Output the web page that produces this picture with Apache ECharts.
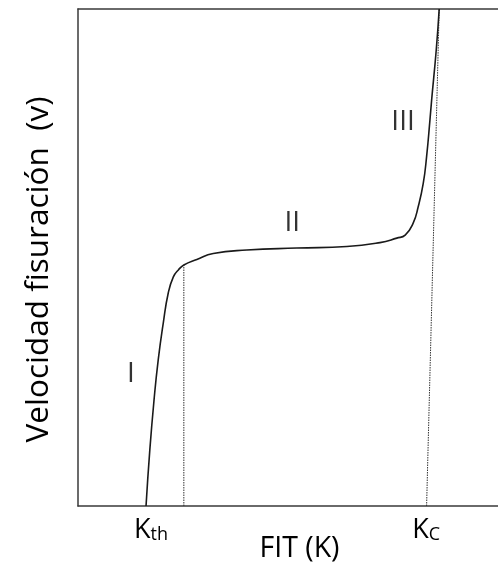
<!DOCTYPE html>
<html>
<head>
<meta charset="utf-8">
<script src="https://cdn.jsdelivr.net/npm/echarts@6/dist/echarts.min.js"></script>
<style>html,body{margin:0;padding:0;background:#fff;}#c{width:498px;height:564px;}</style>
</head>
<body>
<div id="c"></div>
<script>
// Crack growth curve (schematic), x: stress intensity factor, y: crack velocity
const curveX = [16.2, 17.1, 18.1, 19.1, 20.3, 21.5, 22.7, 23.9, 25.2, 28.3, 32.2, 40.2, 52.1, 64.0, 71.9, 75.9, 77.9, 79.8, 81.0, 82.2, 83.0, 83.8, 84.2, 85.3, 86.0];
const curveY = [0, 11.3, 21.3, 29.4, 36.8, 42.9, 46.1, 47.5, 48.5, 49.6, 50.8, 51.5, 51.9, 52.2, 53.0, 53.9, 54.5, 56.9, 60.2, 64.9, 70.3, 77.7, 81.7, 91.8, 100];
const kthLineX = [25.2, 25.2];
const kthLineY = [0, 48.5];
const kcLineX = [83.0, 86.0];
const kcLineY = [0, 100];
const regionNames = ['I', 'II', 'III'];
const regionX = [12.6, 51.0, 77.4];
const regionY = [26.6, 57.0, 77.3];
const tickValues = [17.4, 82.9];
const tickLabels = ['{k|K}{s|th}', '{k|K}{s|C}'];
const xTitle = 'FIT (K)';
const yTitle = 'Velocidad fisuración  (v)';

const FONT = 'Open Sans';
const chart = echarts.init(document.getElementById('c'), null, {renderer: 'canvas'});
const zip = (a, b) => a.map((v, i) => [v, b[i]]);
chart.setOption({
  animation: false,
  grid: {left: 78, right: 0, top: 9, bottom: 58, containLabel: false, outerBoundsMode: 'none'},
  xAxis: [{
    type: 'value', min: 0, max: 100, position: 'bottom',
    axisLine: {show: true, lineStyle: {color: '#3a3a3a', width: 1.5}},
    axisTick: {show: false}, splitLine: {show: false},
    axisLabel: {
      show: true, margin: 8, customValues: tickValues,
      formatter: v => tickLabels[tickValues.indexOf(v)] || '',
      rich: {
        k: {fontFamily: FONT, fontSize: 27, color: '#000', verticalAlign: 'bottom', lineHeight: 30},
        s: {fontFamily: FONT, fontSize: 18, color: '#000', verticalAlign: 'bottom', lineHeight: 24}
      }
    },
    name: xTitle, nameLocation: 'middle', nameGap: 28, nameMoveOverlap: false,
    nameTextStyle: {fontFamily: FONT, fontSize: 28.5, color: '#000', padding: [0, 0, 0, 23]}
  }, {
    type: 'value', min: 0, max: 100, position: 'top',
    axisLine: {show: true, lineStyle: {color: '#3a3a3a', width: 1.5}},
    axisTick: {show: false}, axisLabel: {show: false}, splitLine: {show: false}
  }],
  yAxis: {
    type: 'value', min: 0, max: 100,
    axisLine: {show: true, lineStyle: {color: '#3a3a3a', width: 1.5}},
    axisTick: {show: false}, axisLabel: {show: false}, splitLine: {show: false},
    name: yTitle, nameLocation: 'middle', nameGap: 23, nameRotate: 90, nameMoveOverlap: false,
    nameTextStyle: {fontFamily: FONT, fontSize: 31.5, color: '#000', padding: [0, 24, 0, 0]}
  },
  series: [
    {
      type: 'line', data: zip(kthLineX, kthLineY), symbol: 'none',
      lineStyle: {color: '#333', width: 1, type: [1.5, 1]}, silent: true
    },
    {
      type: 'line', data: zip(kcLineX, kcLineY), symbol: 'none',
      lineStyle: {color: '#333', width: 1, type: [1.5, 1]}, silent: true
    },
    {
      type: 'line', data: zip(curveX, curveY), symbol: 'none', smooth: 0.5,
      lineStyle: {color: '#1a1a1a', width: 1.6}, silent: true
    },
    {
      type: 'scatter', symbolSize: 0, silent: true,
      data: regionNames.map((n, i) => ({value: [regionX[i], regionY[i]], name: n})),
      label: {show: true, position: 'inside', formatter: p => p.name,
        fontFamily: FONT, fontSize: 28, color: '#000'}
    }
  ]
});
</script>
</body>
</html>
